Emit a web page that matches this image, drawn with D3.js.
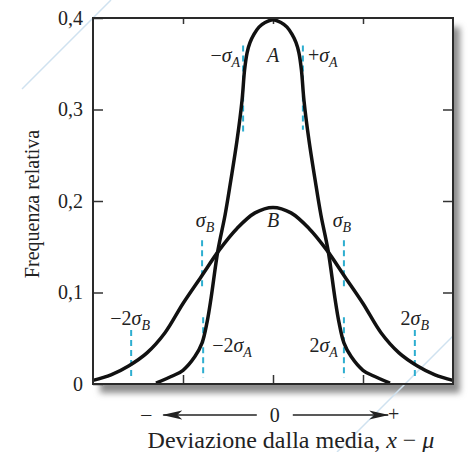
<!DOCTYPE html>
<html>
<head>
<meta charset="utf-8">
<script src="https://cdn.jsdelivr.net/npm/d3@7"></script>
<style>
  html, body { margin: 0; padding: 0; background: #fff; }
  svg { display: block; font-family: "Liberation Serif", "DejaVu Serif", serif; }
</style>
</head>
<body>
<div id="chart"></div>
<script>
// curve A: narrow distribution
var curveAx = [-3.25, -2.78, -2.5, -2.17, -1.97, -1.83, -1.72, -1.53, -1.33, -1.17, -1.0, -0.86, -0.79, -0.72, -0.64, -0.53, -0.39, -0.22, 0,
               0.22, 0.39, 0.53, 0.64, 0.72, 0.79, 0.86, 1.0, 1.17, 1.33, 1.53, 1.72, 1.83, 1.97, 2.17, 2.5, 2.78, 3.25];
var curveAy = [0.001, 0.009, 0.015, 0.030, 0.045, 0.068, 0.094, 0.146, 0.185, 0.223, 0.266, 0.310, 0.343, 0.362, 0.373, 0.382, 0.390, 0.395, 0.398,
               0.395, 0.390, 0.382, 0.373, 0.362, 0.343, 0.310, 0.266, 0.223, 0.185, 0.146, 0.094, 0.068, 0.045, 0.030, 0.015, 0.009, 0.001];

// curve B: wide distribution
var curveBx = [-5, -4.5, -4, -3.5, -3, -2.5, -2, -1.5, -1, -0.5, 0, 0.5, 1, 1.5, 2, 2.5, 3, 3.5, 4, 4.5, 5];
var curveBy = [0.004, 0.010, 0.020, 0.034, 0.056, 0.088, 0.117, 0.146, 0.170, 0.187, 0.193,
               0.187, 0.170, 0.146, 0.117, 0.088, 0.056, 0.034, 0.020, 0.010, 0.004];

// dashed sigma markers
var sigmaPre = ['\u2212', '+', '', '', '\u22122', '2', '\u22122', '2'];
var sigmaSub = ['A', 'A', 'B', 'B', 'B', 'B', 'A', 'A'];
var sigmaX = [-0.83, 0.83, -1.97, 1.97, -3.94, 3.94, -1.94, 1.97];
var sigmaTop = [0.370, 0.370, 0.157, 0.157, 0.059, 0.059, 0.073, 0.073];
var sigmaBottom = [0.272, 0.278, 0.106, 0.106, 0.007, 0.007, 0.007, 0.007];

var curveNames = ['A', 'B'];
var yTicks = [0, 0.1, 0.2, 0.3, 0.4];
var xTicks = [-2.5, 0, 2.5];

// label placement for the sigma markers
var labelAnchor = ['end', 'start', 'middle', 'middle', 'middle', 'middle', 'start', 'end'];
var labelDx = [-3, 5, 3, -2, -1, 0, 9, -6];
var labelY = [0.352, 0.352, 0.1716, 0.1716, 0.0645, 0.0645, 0.035, 0.035];
var curveLabelY = [0.352, 0.1716];

var W = 468, H = 452;
var box = {left: 93, right: 453, top: 18, bottom: 384};

var x = d3.scaleLinear().domain([-5, 5]).range([box.left, box.right]);
var y = d3.scaleLinear().domain([0, 0.4]).range([box.bottom, box.top]);

var svg = d3.select('#chart').append('svg')
    .attr('width', W)
    .attr('height', H);

var defs = svg.append('defs');
defs.append('filter')
    .attr('id', 'shadow')
    .attr('x', '-10%').attr('y', '-10%')
    .attr('width', '120%').attr('height', '120%')
    .append('feGaussianBlur')
    .attr('stdDeviation', 3);

defs.append('marker')
    .attr('id', 'arrow')
    .attr('viewBox', '0 -5 20 10')
    .attr('refX', 19).attr('refY', 0)
    .attr('markerUnits', 'userSpaceOnUse')
    .attr('markerWidth', 20).attr('markerHeight', 10)
    .attr('orient', 'auto')
    .append('path')
    .attr('d', 'M0,-4.5L20,0L0,4.5L5,0Z')
    .attr('fill', '#222');

// faint guide line from the page (top left)
svg.append('line')
    .attr('x1', 22).attr('y1', 89).attr('x2', 111).attr('y2', 0)
    .attr('stroke', '#cfe2f0').attr('stroke-width', 1.5);

// shadow and white plot area
svg.append('rect')
    .attr('x', box.left + 7).attr('y', box.top + 9)
    .attr('width', box.right - box.left).attr('height', box.bottom - box.top)
    .attr('fill', '#8c8c8c')
    .attr('filter', 'url(#shadow)');

svg.append('rect')
    .attr('x', box.left).attr('y', box.top)
    .attr('width', box.right - box.left).attr('height', box.bottom - box.top)
    .attr('fill', '#fff');

// faint guide line (bottom right)
svg.append('line')
    .attr('x1', 337).attr('y1', 452).attr('x2', 453).attr('y2', 336)
    .attr('stroke', '#cfe2f0').attr('stroke-width', 1.5);

var commaFmt = function(d) {
    return d === 0 ? '0' : d3.format('.1f')(d).replace('.', ',');
};

var gLeft = svg.append('g')
    .attr('transform', 'translate(' + box.left + ',0)')
    .call(d3.axisLeft(y).tickValues(yTicks).tickSizeInner(-10).tickSizeOuter(0)
        .tickPadding(10).tickFormat(commaFmt));

var gRight = svg.append('g')
    .attr('transform', 'translate(' + box.right + ',0)')
    .call(d3.axisRight(y).tickValues(yTicks.slice(1, 4)).tickSizeInner(-10).tickSizeOuter(0)
        .tickFormat(''));

var gBottom = svg.append('g')
    .attr('transform', 'translate(0,' + box.bottom + ')')
    .call(d3.axisBottom(x).tickValues(xTicks).tickSizeInner(-9).tickSizeOuter(0).tickFormat(''));

var gTop = svg.append('g')
    .attr('transform', 'translate(0,' + box.top + ')')
    .call(d3.axisTop(x).tickValues(xTicks).tickSizeInner(-6).tickSizeOuter(0).tickFormat(''));

[gLeft, gRight, gBottom, gTop].forEach(function(g) {
    g.select('.domain').remove();
    g.selectAll('.tick line').attr('stroke', '#333').attr('stroke-width', 1.5);
    g.selectAll('.tick text')
        .attr('fill', '#222')
        .style('font-family', '"Liberation Serif", serif')
        .style('font-size', '20px');
});

// dashed sigma lines
svg.append('g').selectAll('line')
    .data(sigmaX)
    .enter().append('line')
    .attr('x1', function(d) { return x(d); })
    .attr('x2', function(d) { return x(d); })
    .attr('y1', function(d, i) { return y(sigmaTop[i]); })
    .attr('y2', function(d, i) { return y(sigmaBottom[i]); })
    .attr('stroke', '#2eaed0')
    .attr('stroke-width', 2)
    .attr('stroke-dasharray', '6,4');

// curves
var line = d3.line()
    .x(function(d) { return x(d[0]); })
    .y(function(d) { return y(d[1]); })
    .curve(d3.curveCatmullRom.alpha(0.5));

var curves = [d3.zip(curveAx, curveAy), d3.zip(curveBx, curveBy)];

svg.append('g').selectAll('path')
    .data(curves)
    .enter().append('path')
    .attr('d', line)
    .attr('fill', 'none')
    .attr('stroke', '#111')
    .attr('stroke-width', 3.5)
    .attr('stroke-linejoin', 'round');

// frame
svg.append('rect')
    .attr('x', box.left).attr('y', box.top)
    .attr('width', box.right - box.left).attr('height', box.bottom - box.top)
    .attr('fill', 'none')
    .attr('stroke', '#2a2a2a')
    .attr('stroke-width', 2);

// curve names
svg.append('g').selectAll('text')
    .data(curveNames)
    .enter().append('text')
    .attr('x', x(0))
    .attr('y', function(d, i) { return y(curveLabelY[i]); })
    .attr('text-anchor', 'middle')
    .attr('font-size', 20)
    .attr('font-style', 'italic')
    .attr('fill', '#222')
    .text(function(d) { return d; });

// sigma labels
var lab = svg.append('g').selectAll('text')
    .data(sigmaX)
    .enter().append('text')
    .attr('x', function(d, i) { return x(d) + labelDx[i]; })
    .attr('y', function(d, i) { return y(labelY[i]); })
    .attr('text-anchor', function(d, i) { return labelAnchor[i]; })
    .attr('font-size', 20)
    .attr('fill', '#222');

lab.append('tspan').text(function(d, i) { return sigmaPre[i]; });
lab.append('tspan').attr('font-style', 'italic').text('\u03c3');
lab.append('tspan')
    .attr('font-style', 'italic')
    .attr('font-size', 14)
    .attr('dy', 5)
    .text(function(d, i) { return sigmaSub[i]; });

// bottom direction arrows
var arrowY = 415;
svg.append('line')
    .attr('x1', x(-0.45)).attr('x2', x(-3.05))
    .attr('y1', arrowY).attr('y2', arrowY)
    .attr('stroke', '#222').attr('stroke-width', 1.5)
    .attr('marker-end', 'url(#arrow)');
svg.append('line')
    .attr('x1', x(0.55)).attr('x2', x(3.2))
    .attr('y1', arrowY).attr('y2', arrowY)
    .attr('stroke', '#222').attr('stroke-width', 1.5)
    .attr('marker-end', 'url(#arrow)');

svg.append('text')
    .attr('x', x(0.05)).attr('y', arrowY + 7)
    .attr('text-anchor', 'middle').attr('font-size', 20).attr('fill', '#222')
    .text('0');
svg.append('text')
    .attr('x', x(-3.52)).attr('y', arrowY + 6)
    .attr('text-anchor', 'middle').attr('font-size', 20).attr('fill', '#222')
    .text('\u2013');
svg.append('text')
    .attr('x', x(3.35)).attr('y', arrowY + 6)
    .attr('text-anchor', 'middle').attr('font-size', 20).attr('fill', '#222')
    .text('+');

// axis titles
var xt = svg.append('text')
    .attr('x', 291).attr('y', 448)
    .attr('text-anchor', 'middle')
    .attr('font-size', 24)
    .attr('fill', '#222');
xt.append('tspan').text('Deviazione dalla media, ');
xt.append('tspan').attr('font-style', 'italic').text('x');
xt.append('tspan').text(' \u2212 ');
xt.append('tspan').attr('font-style', 'italic').text('\u03bc');

svg.append('text')
    .attr('transform', 'translate(39,204) rotate(-90)')
    .attr('text-anchor', 'middle')
    .attr('font-size', 20)
    .attr('fill', '#222')
    .text('Frequenza relativa');
</script>
</body>
</html>
